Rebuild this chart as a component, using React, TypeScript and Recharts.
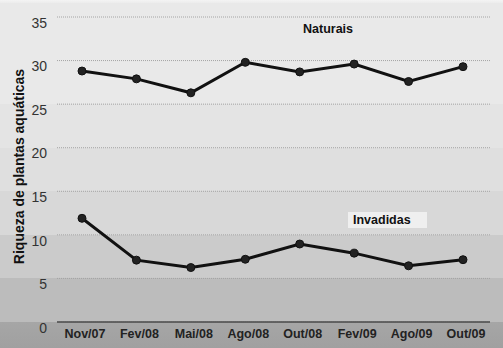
import React from "react";
import {
  LineChart,
  Line,
  XAxis,
  YAxis,
  CartesianGrid,
} from "recharts";

const MONTHS = ["Nov/07", "Fev/08", "Mai/08", "Ago/08", "Out/08", "Fev/09", "Ago/09", "Out/09"];
const NATURAIS = [28.8, 27.9, 26.3, 29.8, 28.7, 29.6, 27.6, 29.3];
const INVADIDAS = [11.9, 7.1, 6.25, 7.2, 8.95, 7.9, 6.45, 7.15];
const Y_TICKS = [0, 5, 10, 15, 20, 25, 30, 35];

// background shading bands (value ranges) like the printed figure
const BANDS = [
  { from: 35, to: 25, color: "#e9e9e9" },
  { from: 25, to: 20, color: "#e4e4e4" },
  { from: 20, to: 15, color: "#dfdfdf" },
  { from: 15, to: 10, color: "#d8d8d8" },
  { from: 10, to: 5, color: "#cbcbcb" },
  { from: 5, to: 0, color: "#bcbcbc" },
];

const W = 503;
const H = 348;
const TOP = 17;
const BOTTOM = 26;
const LEFT = 57;
const RIGHT = 13;
const Y_MAX = 35;

const data = MONTHS.map((m, i) => ({
  month: m,
  naturais: NATURAIS[i],
  invadidas: INVADIDAS[i],
}));

const plotH = H - TOP - BOTTOM;
const yPx = (v: number) => TOP + ((Y_MAX - v) / Y_MAX) * plotH;

const stops: string[] = ["#f4f4f4 0px", "#ececec 3px", "#e9e9e9 3px"];
BANDS.forEach((b) => {
  stops.push(`${b.color} ${yPx(b.from)}px`, `${b.color} ${yPx(b.to)}px`);
});
stops.push(`#a6a6a6 ${H - BOTTOM}px`, `#a0a0a0 ${H}px`);
const background = `linear-gradient(to bottom, ${stops.join(", ")})`;

const font = "'Liberation Sans', Arial, sans-serif";

function YTick(props: any) {
  const { x, y, payload } = props;
  return (
    <text x={x - 2} y={y + 7} textAnchor="end" dominantBaseline="middle" fontSize={14} fill="#333" fontFamily={font}>
      {payload.value}
    </text>
  );
}

function XTick(props: any) {
  const { x, y, payload } = props;
  return (
    <text x={x + 3} y={y + 5} textAnchor="middle" dominantBaseline="middle" fontSize={12.5} fontWeight="bold" fill="#222" fontFamily={font}>
      {payload.value}
    </text>
  );
}

export default function App() {
  return (
    <div style={{ position: "absolute", left: 0, top: 0, width: W, height: H, background, fontFamily: font }}>
      <LineChart width={W} height={H} data={data} margin={{ top: TOP, right: RIGHT, left: 0, bottom: 0 }}>
        <CartesianGrid vertical={false} stroke="#a4a4a4" strokeDasharray="1 1" />
        <XAxis
          dataKey="month"
          height={BOTTOM}
          padding={{ left: 25, right: 27 }}
          tickLine={false}
          axisLine={{ stroke: "#4a4a4a", strokeWidth: 1.5 }}
          tick={<XTick />}
          interval={0}
        />
        <YAxis
          width={LEFT}
          domain={[0, Y_MAX]}
          ticks={Y_TICKS}
          axisLine={false}
          tickLine={false}
          tick={<YTick />}
          label={{
            value: "Riqueza de plantas aquáticas",
            angle: -90,
            position: "insideLeft",
            dx: 14,
            dy: -3,
            style: { fontSize: 14, fontWeight: "bold", fill: "#111", fontFamily: font, textAnchor: "middle" },
          }}
        />
        <Line
          dataKey="naturais"
          stroke="#111"
          strokeWidth={3}
          dot={{ r: 4, fill: "#222", stroke: "#111", strokeWidth: 1 }}
          isAnimationActive={false}
        />
        <Line
          dataKey="invadidas"
          stroke="#111"
          strokeWidth={3}
          dot={{ r: 4, fill: "#222", stroke: "#111", strokeWidth: 1 }}
          isAnimationActive={false}
        />
      </LineChart>
      <div style={{ position: "absolute", left: 303, top: 22, fontSize: 12.5, fontWeight: "bold", color: "#111" }}>
        Naturais
      </div>
      <div
        style={{
          position: "absolute",
          left: 348,
          top: 212,
          width: 79,
          height: 16,
          background: "#efefef",
          fontSize: 12.5,
          fontWeight: "bold",
          color: "#111",
          lineHeight: "16px",
          paddingLeft: 5,
          boxSizing: "border-box",
        }}
      >
        Invadidas
      </div>
    </div>
  );
}
